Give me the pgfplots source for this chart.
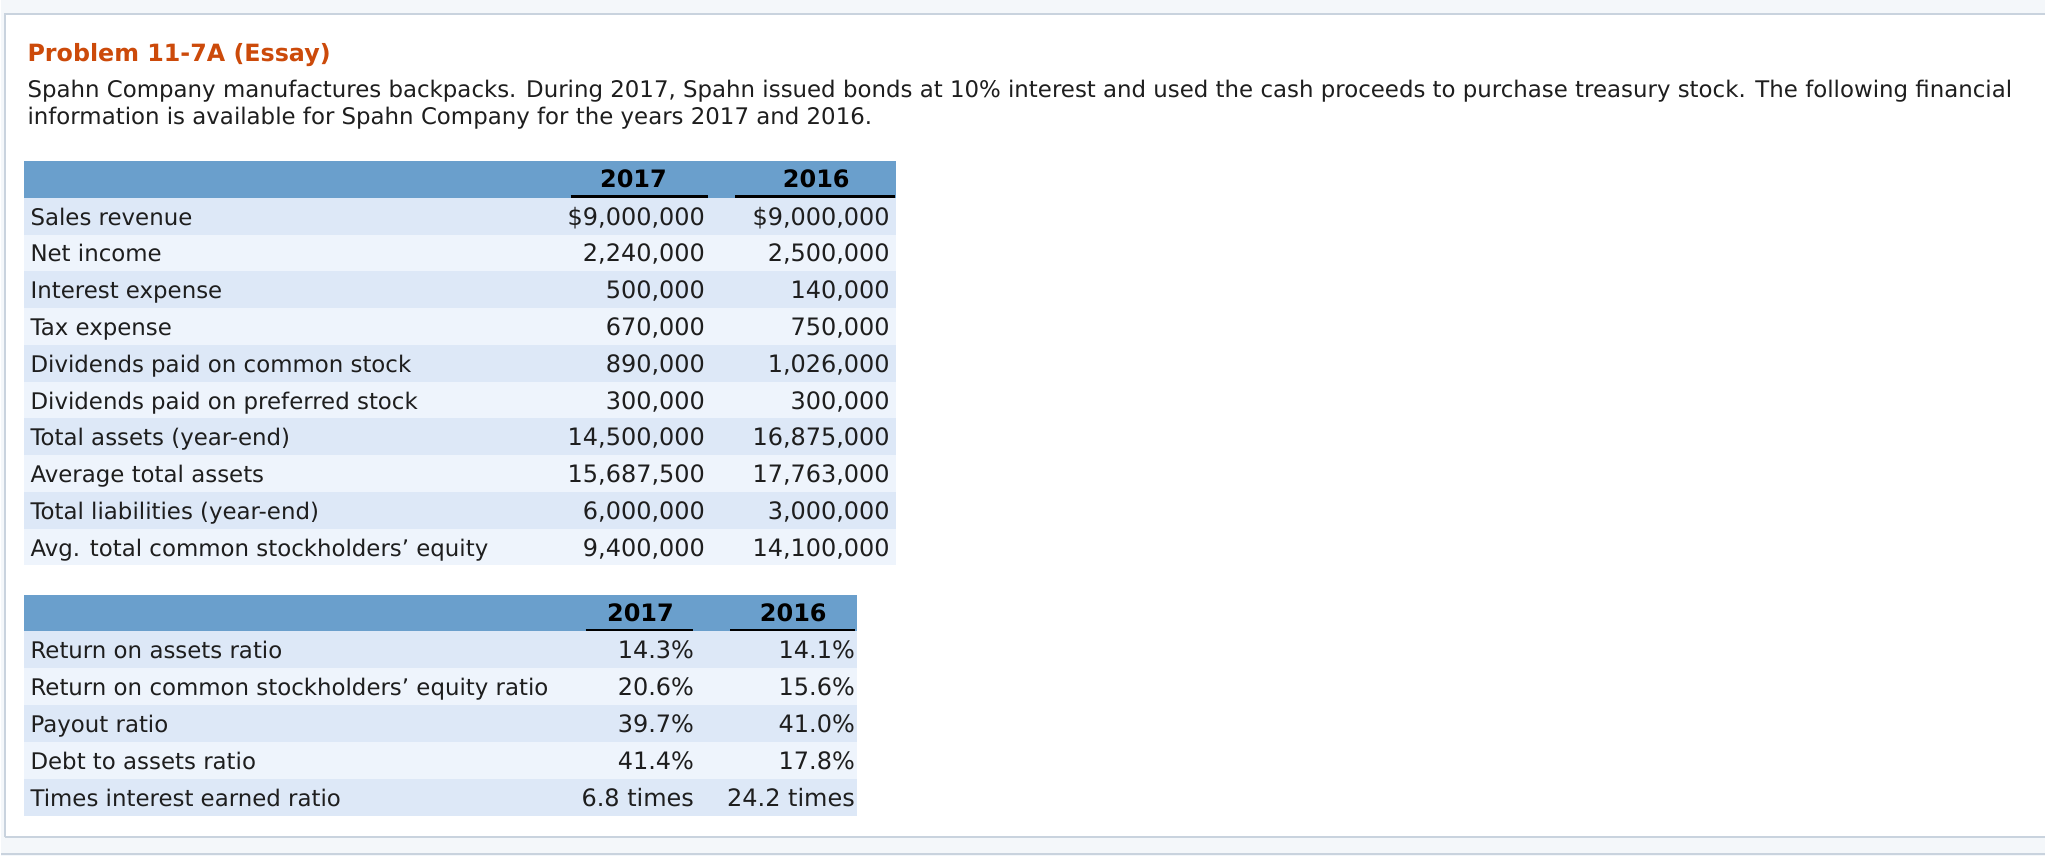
\documentclass[border=0pt]{standalone}
\usepackage{pgfplots}
\pgfplotsset{compat=1.18}
\usepackage{fontspec}
\setmainfont{DejaVu Sans}

\definecolor{pagebg}{HTML}{F4F7FA}
\definecolor{framecol}{HTML}{C9D3DE}
\definecolor{headbg}{HTML}{6A9FCC}
\definecolor{rowdark}{HTML}{DDE8F7}
\definecolor{rowlight}{HTML}{EEF4FC}
\definecolor{titlecol}{HTML}{CC4A0A}
\definecolor{ink}{HTML}{1E1E1E}

\tikzset{
  cell/.style={font=\fontsize{11.45}{14}\selectfont, text=ink, inner sep=0pt},
  num/.style={font=\fontsize{12}{14}\selectfont, text=ink, inner sep=0pt, anchor=mid east},
  hdr/.style={font=\fontsize{12}{14}\selectfont\bfseries, text=black, inner sep=0pt, anchor=mid},
}
% one table row: top y, colour, label, 2017 right x, 2017 value, 2016 right x, 2016 value, band right x
\newcommand{\trow}[8]{%
  \fill[#2] (axis cs:23,#1) rectangle (axis cs:#8,#1+36.8);
  \node[cell, anchor=mid west] at (axis cs:29,#1+22) {#3};
  \node[num] at (axis cs:#4,#1+22) {#5};
  \node[num] at (axis cs:#6,#1+22) {#7};
}

\begin{document}
\begin{tikzpicture}
\begin{axis}[
    hide axis,
    scale only axis,
    width=1023pt, height=428.5pt,
    xmin=0, xmax=2046, ymin=0, ymax=857,
    y dir=reverse,
    clip=false,
]
% page and panel
\fill[pagebg] (axis cs:0,0) rectangle (axis cs:2046,857);
\fill[white] (axis cs:4,14) rectangle (axis cs:2046,838);
\draw[framecol, line width=1pt] (axis cs:4,838) -- (axis cs:4,14) -- (axis cs:2046,14);
\draw[framecol, line width=1.2pt] (axis cs:4,838) -- (axis cs:2046,838);
\draw[framecol, line width=1.2pt] (axis cs:0,855) -- (axis cs:2046,855);

% title and text
\node[cell, anchor=mid west, text=titlecol, font=\fontsize{11.9}{15}\selectfont\bfseries] at (axis cs:26,56) {Problem 11-7A (Essay)};
\node[cell, anchor=mid west] at (axis cs:26,92.5) {Spahn Company manufactures backpacks. During 2017, Spahn issued bonds at 10\% interest and used the cash proceeds to purchase treasury stock. The following financial};
\node[cell, anchor=mid west] at (axis cs:26,119) {information is available for Spahn Company for the years 2017 and 2016.};

% table 1
\fill[headbg] (axis cs:23,161) rectangle (axis cs:896,198);
\node[hdr] at (axis cs:633,182) {2017};
\node[hdr] at (axis cs:816,182) {2016};
\draw[black, line width=1.4pt] (axis cs:570,197) -- (axis cs:708,197);
\draw[black, line width=1.4pt] (axis cs:735,197) -- (axis cs:895,197);
\trow{198}{rowdark}{Sales revenue}{705}{\$9,000,000}{890}{\$9,000,000}{896}
\trow{234.8}{rowlight}{Net income}{705}{2,240,000}{890}{2,500,000}{896}
\trow{271.6}{rowdark}{Interest expense}{705}{500,000}{890}{140,000}{896}
\trow{308.4}{rowlight}{Tax expense}{705}{670,000}{890}{750,000}{896}
\trow{345.2}{rowdark}{Dividends paid on common stock}{705}{890,000}{890}{1,026,000}{896}
\trow{382}{rowlight}{Dividends paid on preferred stock}{705}{300,000}{890}{300,000}{896}
\trow{418.8}{rowdark}{Total assets (year-end)}{705}{14,500,000}{890}{16,875,000}{896}
\trow{455.6}{rowlight}{Average total assets}{705}{15,687,500}{890}{17,763,000}{896}
\trow{492.4}{rowdark}{Total liabilities (year-end)}{705}{6,000,000}{890}{3,000,000}{896}
\trow{529.2}{rowlight}{Avg. total common stockholders’ equity}{705}{9,400,000}{890}{14,100,000}{896}

% table 2
\fill[headbg] (axis cs:23,596) rectangle (axis cs:857,632);
\node[hdr] at (axis cs:640,617) {2017};
\node[hdr] at (axis cs:793,617) {2016};
\draw[black, line width=1.4pt] (axis cs:585,631) -- (axis cs:693,631);
\draw[black, line width=1.4pt] (axis cs:730,631) -- (axis cs:855,631);
\trow{632}{rowdark}{Return on assets ratio}{694}{14.3\%}{855}{14.1\%}{857}
\trow{669}{rowlight}{Return on common stockholders’ equity ratio}{694}{20.6\%}{855}{15.6\%}{857}
\trow{706}{rowdark}{Payout ratio}{694}{39.7\%}{855}{41.0\%}{857}
\trow{743}{rowlight}{Debt to assets ratio}{694}{41.4\%}{855}{17.8\%}{857}
\trow{780}{rowdark}{Times interest earned ratio}{694}{6.8 times}{855}{24.2 times}{857}
\end{axis}
\end{tikzpicture}
\end{document}
